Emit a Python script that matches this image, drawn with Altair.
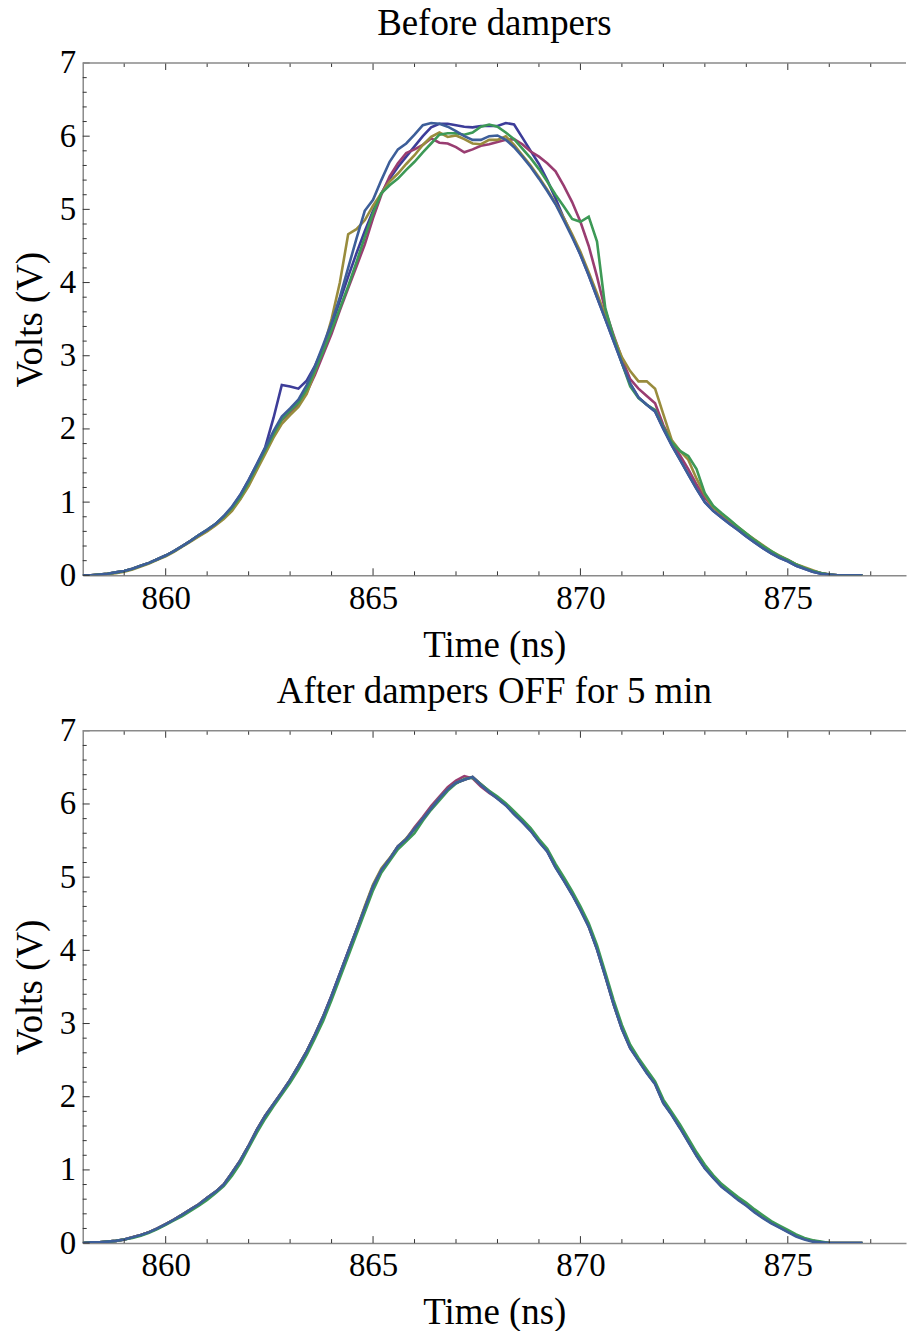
import altair as alt
import pandas as pd

# sample times (ns), 0.2 ns apart
time_ns = [round(858.0 + 0.2 * i, 1) for i in range(95)]
series_names = ["s1", "s2", "s3", "s4", "s5"]
series_colors = ["#3d3d99", "#993d71", "#998c3d", "#3d9956", "#3d5e99"]

# ---------------- Before dampers ----------------
before_s1 = [0.00,0.00,0.01,0.02,0.04,0.06,0.09,0.13,0.17,0.22,
             0.27,0.33,0.40,0.47,0.55,0.62,0.70,0.80,0.93,1.10,
             1.30,1.52,1.75,2.15,2.60,2.58,2.55,2.66,2.86,3.12,
             3.42,3.75,4.08,4.40,4.70,4.98,5.22,5.42,5.58,5.72,
             5.86,6.00,6.12,6.17,6.17,6.15,6.13,6.12,6.14,6.14,
             6.14,6.18,6.16,5.98,5.80,5.62,5.40,5.15,4.88,4.64,
             4.38,4.10,3.80,3.50,3.20,2.90,2.62,2.43,2.33,2.24,
             2.00,1.78,1.58,1.38,1.18,1.00,0.88,0.79,0.70,0.62,
             0.53,0.45,0.37,0.30,0.24,0.19,0.13,0.09,0.05,0.02,
             0.01,0.00,0.00,0.00,0.00]
before_s2 = [0.00,0.00,0.01,0.02,0.04,0.06,0.09,0.13,0.17,0.22,
             0.27,0.33,0.40,0.47,0.54,0.61,0.69,0.79,0.90,1.05,
             1.25,1.47,1.69,1.92,2.12,2.22,2.32,2.50,2.74,3.02,
             3.30,3.62,3.92,4.22,4.52,4.88,5.20,5.45,5.63,5.77,
             5.82,5.88,5.97,5.91,5.90,5.85,5.78,5.82,5.87,5.89,
             5.92,5.95,5.96,5.89,5.79,5.72,5.63,5.52,5.32,5.10,
             4.83,4.50,4.08,3.62,3.28,2.96,2.68,2.55,2.45,2.35,
             2.05,1.84,1.64,1.45,1.24,1.06,0.93,0.83,0.74,0.65,
             0.56,0.48,0.40,0.32,0.26,0.21,0.15,0.10,0.06,0.03,
             0.01,0.00,0.00,0.00,0.00]
before_s3 = [0.00,0.00,0.01,0.02,0.03,0.05,0.08,0.12,0.16,0.21,
             0.26,0.32,0.39,0.46,0.53,0.60,0.68,0.77,0.88,1.04,
             1.22,1.44,1.66,1.88,2.07,2.19,2.30,2.48,2.78,3.10,
             3.50,4.00,4.66,4.73,4.85,5.05,5.22,5.38,5.49,5.62,
             5.74,5.88,5.99,6.05,5.99,6.01,5.96,5.90,5.89,5.95,
             5.95,6.00,5.88,5.74,5.60,5.44,5.27,5.08,4.88,4.66,
             4.42,4.14,3.85,3.55,3.26,2.98,2.79,2.65,2.65,2.55,
             2.20,1.85,1.70,1.58,1.32,1.10,0.93,0.84,0.75,0.66,
             0.57,0.49,0.41,0.33,0.27,0.21,0.15,0.11,0.07,0.03,
             0.01,0.00,0.00,0.00,0.00]
before_s4 = [0.00,0.00,0.01,0.02,0.04,0.06,0.09,0.13,0.17,0.22,
             0.27,0.33,0.40,0.47,0.55,0.62,0.70,0.80,0.92,1.07,
             1.27,1.49,1.71,1.93,2.13,2.25,2.36,2.54,2.80,3.06,
             3.35,3.65,3.95,4.28,4.62,4.95,5.22,5.33,5.42,5.54,
             5.65,5.78,5.90,6.02,6.04,6.04,6.02,6.05,6.13,6.16,
             6.13,6.05,5.96,5.83,5.70,5.55,5.38,5.20,5.04,4.87,
             4.83,4.90,4.56,3.65,3.25,2.90,2.58,2.42,2.33,2.26,
             2.02,1.82,1.70,1.63,1.45,1.12,0.95,0.85,0.76,0.66,
             0.57,0.48,0.40,0.33,0.26,0.21,0.15,0.10,0.06,0.03,
             0.01,0.00,0.00,0.00,0.00]
before_s5 = [0.00,0.00,0.01,0.02,0.04,0.06,0.09,0.13,0.17,0.22,
             0.27,0.33,0.40,0.47,0.55,0.62,0.70,0.81,0.94,1.10,
             1.30,1.52,1.74,1.97,2.17,2.28,2.40,2.60,2.86,3.15,
             3.45,3.80,4.20,4.60,4.98,5.13,5.40,5.65,5.82,5.90,
             6.02,6.15,6.18,6.17,6.13,6.07,6.00,5.95,5.95,6.00,
             6.01,5.95,5.85,5.72,5.58,5.42,5.25,5.07,4.85,4.62,
             4.38,4.10,3.80,3.50,3.20,2.90,2.62,2.43,2.33,2.24,
             2.00,1.78,1.58,1.38,1.18,1.00,0.88,0.79,0.70,0.62,
             0.53,0.45,0.37,0.30,0.24,0.19,0.13,0.09,0.05,0.02,
             0.01,0.00,0.00,0.00,0.00]

# ---------------- After dampers OFF for 5 min ----------------
after_s1 = [0.00,0.01,0.01,0.02,0.03,0.05,0.08,0.11,0.15,0.20,
            0.26,0.32,0.39,0.46,0.53,0.62,0.70,0.80,0.96,1.13,
            1.33,1.55,1.74,1.90,2.06,2.23,2.42,2.62,2.85,3.10,
            3.38,3.68,3.98,4.28,4.58,4.88,5.10,5.25,5.42,5.52,
            5.66,5.80,5.94,6.08,6.20,6.29,6.33,6.37,6.27,6.17,
            6.08,5.99,5.87,5.76,5.64,5.49,5.36,5.14,4.96,4.77,
            4.56,4.33,4.02,3.65,3.27,2.93,2.67,2.50,2.33,2.18,
            1.92,1.76,1.58,1.39,1.20,1.03,0.90,0.78,0.69,0.60,
            0.52,0.43,0.35,0.28,0.22,0.16,0.10,0.06,0.03,0.01,
            0.00,0.00,0.00,0.00,0.00]
after_s2 = [0.00,0.01,0.01,0.02,0.03,0.05,0.08,0.11,0.15,0.20,
            0.26,0.32,0.39,0.46,0.53,0.62,0.70,0.80,0.96,1.13,
            1.33,1.55,1.74,1.90,2.06,2.23,2.42,2.62,2.85,3.10,
            3.38,3.68,3.98,4.28,4.58,4.88,5.10,5.25,5.42,5.52,
            5.68,5.82,5.97,6.10,6.23,6.32,6.38,6.35,6.24,6.15,
            6.08,5.99,5.87,5.76,5.64,5.49,5.36,5.14,4.96,4.77,
            4.56,4.33,4.02,3.65,3.27,2.93,2.67,2.50,2.33,2.18,
            1.92,1.76,1.58,1.39,1.20,1.03,0.90,0.78,0.69,0.60,
            0.52,0.43,0.35,0.28,0.22,0.16,0.10,0.06,0.03,0.01,
            0.00,0.00,0.00,0.00,0.00]
after_s3 = [0.00,0.01,0.01,0.02,0.03,0.05,0.08,0.11,0.15,0.20,
            0.26,0.32,0.39,0.46,0.53,0.62,0.70,0.80,0.96,1.13,
            1.33,1.55,1.74,1.90,2.06,2.23,2.42,2.62,2.85,3.10,
            3.37,3.67,3.97,4.28,4.60,4.90,5.12,5.26,5.42,5.53,
            5.66,5.80,5.94,6.08,6.20,6.29,6.33,6.37,6.27,6.17,
            6.08,5.99,5.87,5.76,5.64,5.49,5.36,5.14,4.96,4.77,
            4.56,4.33,4.02,3.65,3.27,2.93,2.67,2.50,2.33,2.18,
            1.92,1.76,1.58,1.39,1.20,1.03,0.90,0.78,0.69,0.60,
            0.52,0.43,0.35,0.28,0.22,0.16,0.10,0.06,0.03,0.01,
            0.00,0.00,0.00,0.00,0.00]
after_s4 = [0.00,0.01,0.01,0.02,0.03,0.05,0.07,0.10,0.14,0.19,
            0.25,0.31,0.37,0.44,0.51,0.59,0.68,0.78,0.92,1.09,
            1.30,1.51,1.70,1.87,2.03,2.19,2.37,2.57,2.80,3.04,
            3.32,3.62,3.92,4.22,4.52,4.82,5.06,5.22,5.38,5.49,
            5.60,5.77,5.92,6.05,6.18,6.28,6.34,6.36,6.27,6.18,
            6.10,6.01,5.90,5.79,5.67,5.52,5.39,5.18,5.00,4.81,
            4.60,4.37,4.07,3.70,3.32,2.98,2.71,2.53,2.37,2.21,
            1.96,1.79,1.62,1.43,1.24,1.07,0.93,0.81,0.72,0.63,
            0.55,0.46,0.38,0.30,0.24,0.18,0.12,0.07,0.04,0.02,
            0.00,0.00,0.00,0.00,0.00]
after_s5 = [0.00,0.01,0.01,0.02,0.03,0.05,0.08,0.11,0.15,0.20,
            0.26,0.32,0.39,0.46,0.53,0.62,0.70,0.80,0.96,1.13,
            1.33,1.55,1.74,1.90,2.06,2.23,2.42,2.62,2.85,3.10,
            3.38,3.68,3.98,4.28,4.58,4.88,5.10,5.25,5.42,5.52,
            5.66,5.80,5.94,6.08,6.20,6.29,6.33,6.37,6.26,6.16,
            6.07,5.98,5.86,5.75,5.63,5.48,5.35,5.13,4.95,4.76,
            4.55,4.32,4.01,3.64,3.26,2.92,2.66,2.49,2.32,2.17,
            1.91,1.75,1.57,1.38,1.19,1.02,0.89,0.77,0.68,0.59,
            0.51,0.42,0.34,0.27,0.21,0.15,0.09,0.05,0.02,0.01,
            0.00,0.00,0.00,0.00,0.00]

# tick positions
x_major = [860, 865, 870, 875]
x_minor = [859, 861, 862, 863, 864, 866, 867, 868, 869, 871, 872, 873, 874, 876, 877]
y_major = [0, 1, 2, 3, 4, 5, 6, 7]
y_minor = [round(0.2 * i, 1) for i in range(1, 35) if i % 5 != 0]

W, H = 826, 514
X_DOMAIN = [858, 877.85]
Y_DOMAIN = [0, 7]
FONT = "Liberation Serif"
TICK_COLOR = "#333333"
FRAME_COLOR = "#8a8a8a"
TITLE_SIZE = 37
LABEL_SIZE = 33

X_AXIS = alt.Axis(values=x_major, format="d", labelPadding=7, titlePadding=12)
Y_AXIS = alt.Axis(values=y_major, format="d", labelPadding=7, titlePadding=10)


def long_df(lists):
    rows = []
    for name, vals in zip(series_names, lists):
        for t, v in zip(time_ns, vals):
            rows.append({"time": t, "volts": v, "series": name})
    return pd.DataFrame(rows)


def panel(lists, title):
    xs = alt.Scale(domain=X_DOMAIN, nice=False, zero=False)
    ys = alt.Scale(domain=Y_DOMAIN, nice=False, zero=False)
    xenc = lambda f: alt.X(f, scale=xs, title="Time (ns)", axis=X_AXIS)
    yenc = lambda f: alt.Y(f, scale=ys, title="Volts (V)", axis=Y_AXIS)
    lines = alt.Chart(long_df(lists)).mark_line(strokeWidth=2.6, clip=True).encode(
        x=xenc("time:Q"),
        y=yenc("volts:Q"),
        color=alt.Color("series:N", scale=alt.Scale(domain=series_names, range=series_colors),
                        legend=None),
        order=alt.Order("time:Q"),
    )
    layers = [lines]
    for vals, ln in [(x_major, 7), (x_minor, 4)]:
        base = alt.Chart(pd.DataFrame({"t": vals})).mark_rule(color=TICK_COLOR, strokeWidth=1)
        layers.append(base.encode(x=xenc("t:Q"), y=alt.value(H), y2=alt.value(H - ln)))
        layers.append(base.encode(x=xenc("t:Q"), y=alt.value(0), y2=alt.value(ln)))
    for vals, ln in [(y_major, 7), (y_minor, 4)]:
        base = alt.Chart(pd.DataFrame({"v": vals})).mark_rule(color=TICK_COLOR, strokeWidth=1)
        layers.append(base.encode(y=yenc("v:Q"), x=alt.value(0), x2=alt.value(ln)))
    top_frame = alt.Chart(pd.DataFrame({"a": [0]})).mark_rule(
        color=FRAME_COLOR, strokeWidth=1.5).encode(
        x=alt.value(0), x2=alt.value(W), y=alt.value(0))
    layers.append(top_frame)
    return alt.layer(*layers).properties(
        width=W, height=H,
        title=alt.TitleParams(title, fontSize=TITLE_SIZE, font=FONT, fontWeight="normal",
                              color="black", anchor="middle", offset=4),
    )


chart = alt.vconcat(
    panel([before_s1, before_s2, before_s3, before_s4, before_s5], "Before dampers"),
    panel([after_s1, after_s2, after_s3, after_s4, after_s5], "After dampers OFF for 5 min"),
    spacing=10,
).configure(
    font=FONT,
    padding={"left": 11, "top": 3, "right": 0, "bottom": 0},
).configure_view(
    stroke=None,
).configure_axis(
    labelFont=FONT, titleFont=FONT, labelFontSize=LABEL_SIZE, titleFontSize=TITLE_SIZE,
    labelColor="black", titleColor="black", titleFontWeight="normal",
    ticks=False, grid=False, domainColor=FRAME_COLOR, domainWidth=1.5,
)

chart.save("out.html", embed_options={"renderer": "svg", "actions": False})
